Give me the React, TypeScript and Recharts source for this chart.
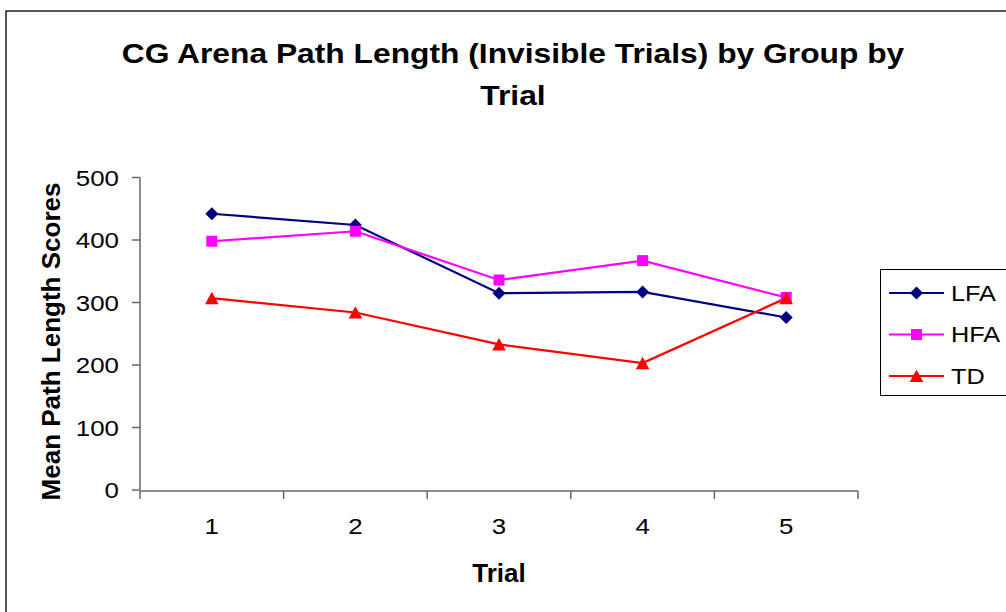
import React from 'react'
import { LineChart, Line, XAxis, YAxis } from 'recharts'

// values
const trials = ['1', '2', '3', '4', '5']
const lfa = [442, 424, 315, 317, 276]
const hfa = [398, 414, 336, 367, 308]
const td = [307, 284, 233, 203, 307]
const yTicks = [0, 100, 200, 300, 400, 500]
const edgeTicks = [0, 1, 2, 3, 4, 5]

const FONT = 'Arial, "Liberation Sans", Helvetica, sans-serif'
const AXIS_COLOR = '#666'

type Shape = 'diamond' | 'square' | 'triangle'

const series: { name: string; values: number[]; color: string; shape: Shape }[] = [
    { name: 'LFA', values: lfa, color: '#000080', shape: 'diamond' },
    { name: 'HFA', values: hfa, color: '#FF00FF', shape: 'square' },
    { name: 'TD', values: td, color: '#FF0000', shape: 'triangle' },
]

// slot = centre of each category on the boundary-tick axis (0..5)
const data = trials.map((t, i) => {
    const row: Record<string, string | number> = { trial: t, slot: i + 0.5 }
    series.forEach(s => { row[s.name] = s.values[i] })
    return row
})

function markerPath(shape: Shape, cx: number, cy: number) {
    if (shape === 'diamond') return `M${cx},${cy - 6.5}L${cx + 6.5},${cy}L${cx},${cy + 6.5}L${cx - 6.5},${cy}Z`
    if (shape === 'square') return `M${cx - 5.5},${cy - 5.5}h11v11h-11Z`
    return `M${cx},${cy - 6.3}L${cx + 6.8},${cy + 6}L${cx - 6.8},${cy + 6}Z`
}

const makeDot = (shape: Shape, color: string) => (props: any) => {
    const { cx, cy, index } = props
    if (cx == null || cy == null) return <g key={`${shape}-${index}`} />
    return <path key={`${shape}-${index}`} d={markerPath(shape, cx, cy)} fill={color} />
}

const YTick = (props: any) => {
    const { x, y, payload } = props
    return (
        <text transform={`translate(${x},${y}) scale(1.15,1)`} textAnchor="end" dy="0.36em"
            fontSize={22.5} fontFamily={FONT} fill="#000">
            {payload.value}
        </text>
    )
}

const XTick = (props: any) => {
    const { x, y, payload } = props
    return (
        <text transform={`translate(${x},${y}) scale(1.15,1)`} textAnchor="middle" dy={44}
            fontSize={22.5} fontFamily={FONT} fill="#000">
            {payload.value}
        </text>
    )
}

const NoTick = () => <g />

export default function App() {
    return (
        <div style={{ position: 'absolute', left: 0, top: 0, width: 1006, height: 612, overflow: 'hidden', background: '#fff' }}>
            <LineChart width={1006} height={612} data={data}
                margin={{ top: 177.5, right: 148, bottom: 120, left: 80 }}>
                <XAxis xAxisId="edge" dataKey="slot" type="number" domain={[0, 5]} ticks={edgeTicks} allowDataOverflow
                    interval={0} height={1} tickSize={8} tick={NoTick}
                    axisLine={{ stroke: AXIS_COLOR, strokeWidth: 1.5 }} tickLine={{ stroke: AXIS_COLOR, strokeWidth: 1.5 }} />
                <XAxis xAxisId="cat" dataKey="trial" scale="band" height={1} interval={0}
                    axisLine={false} tickLine={false} tickSize={0} tickMargin={0} tick={<XTick />} />
                <YAxis domain={[0, 500]} ticks={yTicks} width={60} interval={0} tickSize={8} tickMargin={13}
                    axisLine={{ stroke: AXIS_COLOR, strokeWidth: 1.5 }} tickLine={{ stroke: AXIS_COLOR, strokeWidth: 1.5 }}
                    tick={<YTick />} />
                {series.map(s => (
                    <Line key={s.name} xAxisId="cat" dataKey={s.name} stroke={s.color} strokeWidth={2.2}
                        dot={makeDot(s.shape, s.color)} activeDot={false} isAnimationActive={false} />
                ))}
            </LineChart>
            <svg width={1006} height={612} style={{ position: 'absolute', left: 0, top: 0, pointerEvents: 'none' }}
                fontFamily={FONT}>
                <rect x={6} y={11} width={1100} height={700} fill="none" stroke="#222" strokeWidth={1.5} />
                <text transform="translate(513,63) scale(1.135,1)" textAnchor="middle" fontSize={28} fontWeight="bold">
                    CG Arena Path Length (Invisible Trials) by Group by
                </text>
                <text transform="translate(513,105) scale(1.135,1)" textAnchor="middle" fontSize={28} fontWeight="bold">
                    Trial
                </text>
                <text transform="translate(60,341.5) rotate(-90)" textAnchor="middle" fontSize={26} fontWeight="bold">
                    Mean Path Length Scores
                </text>
                <text x={499} y={582} textAnchor="middle" fontSize={26} fontWeight="bold">Trial</text>
                <rect x={880.5} y={269.5} width={200} height={126} fill="#fff" stroke="#000" strokeWidth={1} />
                {series.map((s, i) => {
                    const cy = 293 + i * 41.5
                    return (
                        <g key={s.name}>
                            <line x1={889} x2={944} y1={cy} y2={cy} stroke={s.color} strokeWidth={2.2} />
                            <path d={markerPath(s.shape, 916.5, cy)} fill={s.color} />
                            <text transform={`translate(951,${cy + 7.5}) scale(1.15,1)`} fontSize={22}>{s.name}</text>
                        </g>
                    )
                })}
            </svg>
        </div>
    )
}
